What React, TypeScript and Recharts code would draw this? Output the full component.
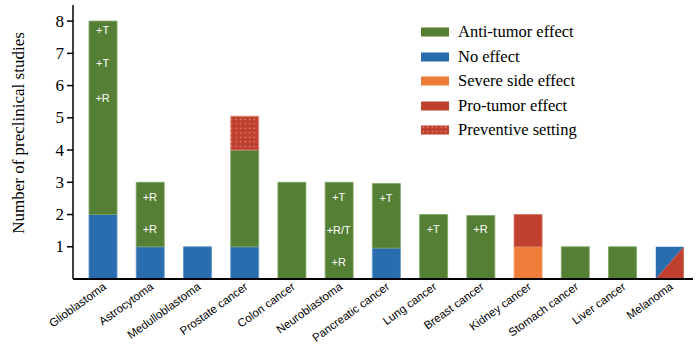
import React from 'react';
import { BarChart, Bar, XAxis, YAxis, ReferenceDot } from 'recharts';

const categories = ['Glioblastoma', 'Astrocytoma', 'Medulloblastoma', 'Prostate cancer', 'Colon cancer', 'Neuroblastoma', 'Pancreatic cancer', 'Lung cancer', 'Breast cancer', 'Kidney cancer', 'Stomach cancer', 'Liver cancer', 'Melanoma'];
const noEffect = [2, 1, 1, 1, 0, 0, 0.96, 0, 0, 0, 0, 0, 0];
const severeSide = [0, 0, 0, 0, 0, 0, 0, 0, 0, 1, 0, 0, 0];
const mixedMelanoma = [0, 0, 0, 0, 0, 0, 0, 0, 0, 0, 0, 0, 1];
const antiTumor = [6, 2, 0, 3, 3, 3, 2, 2, 1.97, 0, 1, 1, 0];
const proTumor = [0, 0, 0, 0, 0, 0, 0, 0, 0, 1, 0, 0, 0];
const preventive = [0, 0, 0, 1.05, 0, 0, 0, 0, 0, 0, 0, 0, 0];
const yTicks = [1, 2, 3, 4, 5, 6, 7, 8];

const annotations = [
  { cat: 'Glioblastoma', y: 7.72, text: '+T' },
  { cat: 'Glioblastoma', y: 6.7, text: '+T' },
  { cat: 'Glioblastoma', y: 5.6, text: '+R' },
  { cat: 'Astrocytoma', y: 2.55, text: '+R' },
  { cat: 'Astrocytoma', y: 1.56, text: '+R' },
  { cat: 'Neuroblastoma', y: 2.55, text: '+T' },
  { cat: 'Neuroblastoma', y: 1.53, text: '+R/T' },
  { cat: 'Neuroblastoma', y: 0.54, text: '+R' },
  { cat: 'Pancreatic cancer', y: 2.52, text: '+T' },
  { cat: 'Lung cancer', y: 1.56, text: '+T' },
  { cat: 'Breast cancer', y: 1.56, text: '+R' },
];

const legendItems = [
  { label: 'Anti-tumor effect', fill: '#557f35' },
  { label: 'No effect', fill: '#2a6daf' },
  { label: 'Severe side effect', fill: '#ee7d3a' },
  { label: 'Pro-tumor effect', fill: '#c0402f' },
  { label: 'Preventive setting', fill: 'url(#dotsLegend)' },
];

const data = categories.map((c, i) => ({
  name: c,
  noEffect: noEffect[i],
  severe: severeSide[i],
  mixed: mixedMelanoma[i],
  anti: antiTumor[i],
  pro: proTumor[i],
  prev: preventive[i],
}));

const SERIF = '"Liberation Serif", "Times New Roman", serif';
const SANS = '"Liberation Sans", Arial, sans-serif';

const XTick = (props: any) => {
  const { x, y, payload } = props;
  const tx = x + 2;
  const ty = y - 2;
  return (
    <text
      x={0}
      y={0}
      transform={`translate(${tx} ${ty}) rotate(-36)`}
      textAnchor="end"
      fontFamily={SANS}
      fontSize={11.5}
      fill="#000"
      dy="0.35em"
    >
      {payload.value}
    </text>
  );
};

const YTick = (props: any) => {
  const { x, y, payload } = props;
  return (
    <text x={x} y={y} textAnchor="end" dominantBaseline="central" fontFamily={SERIF} fontSize={17} fill="#000">
      {payload.value}
    </text>
  );
};

const MixedShape = (props: any) => {
  const { x, y, width, height } = props;
  if (!height) return null;
  return (
    <g>
      <polygon points={`${x},${y} ${x + width},${y} ${x},${y + height}`} fill="#2a6daf" />
      <polygon points={`${x + width},${y} ${x + width},${y + height} ${x},${y + height}`} fill="#c0402f" />
    </g>
  );
};

const LegendBox = () => (
  <div style={{ position: 'absolute', left: 421, top: 20, fontFamily: SERIF, fontSize: 16.5, color: '#000', lineHeight: 1 }}>
    {legendItems.map((it) => (
      <div key={it.label} style={{ display: 'flex', alignItems: 'center', height: 24.5 }}>
        <svg width={28} height={10} style={{ marginRight: 9, flex: 'none' }}>
          <defs>
            <pattern id="dotsLegend" width={4.5} height={4.5} patternUnits="userSpaceOnUse">
              <rect width={4.5} height={4.5} fill="#c0402f" />
              <circle cx={2.25} cy={2.25} r={0.7} fill="#eea59a" />
            </pattern>
          </defs>
          <rect x={0} y={0.5} width={28} height={9} fill={it.fill} />
        </svg>
        <span style={{ whiteSpace: 'nowrap' }}>{it.label}</span>
      </div>
    ))}
  </div>
);

export default function App() {
  return (
    <div style={{ position: 'absolute', left: 0, top: 0, width: 700, height: 351, background: '#fff' }}>
      <BarChart width={700} height={351} data={data} margin={{ top: 5, right: 7, left: 0, bottom: 0 }} barSize={28}>
        <defs>
          <pattern id="dots" width={4.5} height={4.5} patternUnits="userSpaceOnUse">
            <rect width={4.5} height={4.5} fill="#c0402f" />
            <circle cx={2.25} cy={2.25} r={0.7} fill="#eea59a" />
          </pattern>
        </defs>
        <XAxis
          dataKey="name"
          interval={0}
          tick={<XTick />}
          tickLine={false}
          axisLine={{ stroke: '#000', strokeWidth: 2 }}
          height={72}
          padding={{ left: 6, right: 0 }}
        />
        <YAxis
          width={73}
          domain={[0, 8.5]}
          ticks={yTicks}
          tickSize={6}
          tickMargin={3}
          allowDataOverflow
          axisLine={{ stroke: '#000', strokeWidth: 1.5 }}
          tickLine={{ stroke: '#000', strokeWidth: 1.5 }}
          tick={<YTick />}
          label={{
            content: () => (
              <text x={18} y={133} transform="rotate(-90 18 133)" textAnchor="middle" dominantBaseline="central" fontFamily={SERIF} fontSize={17} fill="#000">
                Number of preclinical studies
              </text>
            ),
          }}
        />
        <Bar dataKey="noEffect" stackId="a" fill="#2a6daf" stroke="#5b93c8" strokeWidth={0.8} isAnimationActive={false} />
        <Bar dataKey="severe" stackId="a" fill="#ee7d3a" stroke="#f3a06d" strokeWidth={0.8} isAnimationActive={false} />
        <Bar dataKey="mixed" stackId="a" fill="#2a6daf" shape={<MixedShape />} isAnimationActive={false} />
        <Bar dataKey="anti" stackId="a" fill="#557f35" stroke="#7ea463" strokeWidth={0.8} isAnimationActive={false} />
        <Bar dataKey="pro" stackId="a" fill="#c0402f" stroke="#d0705f" strokeWidth={0.8} isAnimationActive={false} />
        <Bar dataKey="prev" stackId="a" fill="url(#dots)" stroke="#e08c80" strokeWidth={0.8} isAnimationActive={false} />
        {annotations.map((a, i) => (
          <ReferenceDot
            key={i}
            x={a.cat}
            y={a.y}
            r={0}
            isFront
            shape={(p: any) => (
              <text x={p.cx} y={p.cy} textAnchor="middle" dominantBaseline="central" fontFamily={SANS} fontSize={11} fill="#fff">
                {a.text}
              </text>
            )}
          />
        ))}
      </BarChart>
      <LegendBox />
    </div>
  );
}
